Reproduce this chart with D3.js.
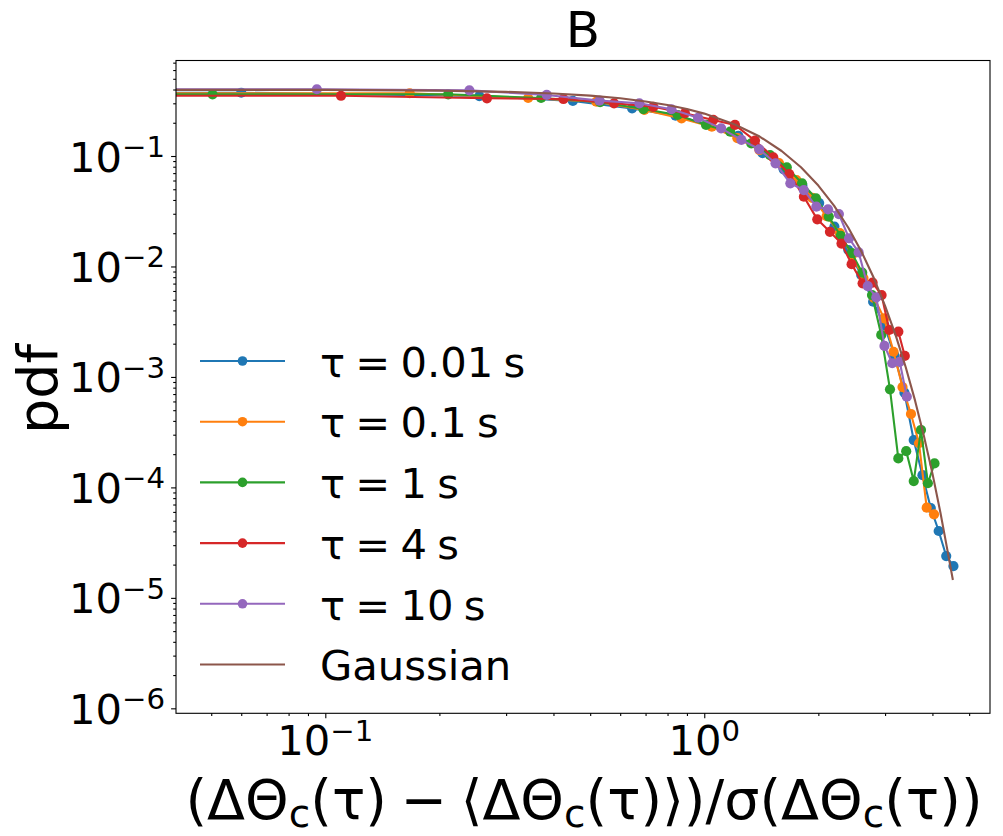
<!DOCTYPE html>
<html>
<head>
<meta charset="utf-8">
<script src="https://cdn.jsdelivr.net/npm/d3@7"></script>
<style>
    body { margin: 0; background: #ffffff; }
    text { font-family: 'DejaVu Sans', sans-serif; fill: #000000; }
</style>
</head>
<body>
<div id="chart"></div>
<script>
// Values (bin centres of the normalised increments, pdf per bin).
// The first entry of every series sits at a negative x: on the log axis it is clipped
// to a tiny value, which is why each line runs flat into the left spine.
const seriesLabels = ['τ = 0.01 s', 'τ = 0.1 s', 'τ = 1 s', 'τ = 4 s', 'τ = 10 s'];
const seriesColors = ['#1f77b4', '#ff7f0e', '#2ca02c', '#d62728', '#9467bd'];

const tau001X = [-0.135, 0.06, 0.255, 0.45, 0.645, 0.84, 1.035, 1.23, 1.425, 1.62, 1.815, 2.01, 2.205, 2.40, 2.595, 2.79, 2.985, 3.18, 3.375, 3.57, 3.765, 3.96, 4.155, 4.35, 4.545];
const tau001Y = [0.372, 0.374, 0.349, 0.315, 0.270, 0.232, 0.191, 0.152, 0.106, 0.0758, 0.0546, 0.0375, 0.0230, 0.0141, 0.00837, 0.00480, 0.00295, 0.00155, 0.000720, 0.000268, 0.000129, 6.51e-5, 4.03e-5, 2.39e-5, 1.94e-5];

const tau01X = [-0.009, 0.167, 0.343, 0.519, 0.695, 0.871, 1.047, 1.223, 1.399, 1.575, 1.751, 1.927, 2.103, 2.279, 2.455, 2.631, 2.807, 2.983, 3.159, 3.335, 3.511, 3.687, 3.863, 4.039];
const tau01Y = [0.370, 0.370, 0.335, 0.310, 0.261, 0.219, 0.184, 0.145, 0.113, 0.0864, 0.0606, 0.0417, 0.0286, 0.0200, 0.0127, 0.00786, 0.00518, 0.00339, 0.00169, 0.000810, 0.000462, 0.000251, 6.55e-5, 5.71e-5];

const tau1X = [-0.11, 0.0504, 0.211, 0.371, 0.531, 0.691, 0.851, 1.011, 1.171, 1.331, 1.491, 1.651, 1.811, 1.971, 2.131, 2.291, 2.451, 2.611, 2.771, 2.931, 3.091, 3.251, 3.411, 3.571, 3.731, 3.891, 4.051];
const tau1Y = [0.362, 0.362, 0.362, 0.335, 0.308, 0.266, 0.235, 0.191, 0.166, 0.130, 0.102, 0.0790, 0.0566, 0.0414, 0.0283, 0.0189, 0.0132, 0.00878, 0.00551, 0.00240, 0.000772, 0.000183, 0.000213, 0.000114, 0.000331, 0.000109, 0.000165];

const tau4X = [-0.047, 0.110, 0.267, 0.425, 0.578, 0.734, 0.889, 1.056, 1.205, 1.361, 1.521, 1.676, 1.832, 1.987, 2.146, 2.302, 2.448, 2.617, 2.781, 2.937, 3.077, 3.252, 3.382];
const tau4Y = [0.351, 0.351, 0.333, 0.328, 0.300, 0.279, 0.244, 0.212, 0.191, 0.138, 0.0973, 0.0687, 0.0428, 0.0267, 0.0206, 0.0161, 0.0105, 0.00704, 0.00713, 0.00551, 0.00266, 0.00257, 0.00155];

const tau10X = [-0.05, 0.095, 0.240, 0.384, 0.529, 0.674, 0.819, 0.963, 1.108, 1.253, 1.397, 1.542, 1.687, 1.831, 1.976, 2.121, 2.266, 2.410, 2.555, 2.700, 2.844, 2.989, 3.134, 3.279, 3.423];
const tau10Y = [0.400, 0.402, 0.393, 0.357, 0.317, 0.300, 0.265, 0.222, 0.178, 0.140, 0.115, 0.0859, 0.0566, 0.0492, 0.0348, 0.0329, 0.0298, 0.0180, 0.0134, 0.00665, 0.00526, 0.00191, 0.00133, 0.00137, 0.000662];

const gaussX = [0, 0.1, 0.2, 0.3, 0.4, 0.5, 0.6, 0.7, 0.8, 0.9, 1.0, 1.2, 1.4, 1.6, 1.8, 2.0, 2.2, 2.4, 2.6, 2.8, 3.0, 3.2, 3.4, 3.6, 3.8, 4.0, 4.2, 4.4, 4.53];
const gaussY = [0.399, 0.397, 0.391, 0.381, 0.368, 0.352, 0.333, 0.312, 0.290, 0.266, 0.242, 0.194, 0.150, 0.111, 0.079, 0.054, 0.0355, 0.0224, 0.0136, 0.0079, 0.0044, 0.00238, 0.00123, 0.00061, 0.00029, 0.000134, 5.9e-5, 2.5e-5, 1.45e-5];

const xTickExponents = [-1, 0];
const yTickExponents = [-6, -5, -4, -3, -2, -1];

/*
    LogLogPdf
    =========
    - initViz()   → svg, scales, spines, axes, labels
    - updateViz() → build the series objects from the arrays
    - renderViz() → lines, markers, legend
*/
class LogLogPdf {
    constructor(config) {
        this.config = {
            parentElement: config.parentElement,
            width: config.width,
            height: config.height,
            left: 176, right: 990, top: 60.5, bottom: 713.3,
            xDomain: [10 ** -1.394, 10 ** 0.754],
            yDomain: [10 ** -6.045, 10 ** -0.1354],
            tickFont: 41.7,
        };
        this.initViz();
    }

    initViz() {
        const c = this.config;

        this.svg = d3.select(c.parentElement)
            .append('svg')
            .attr('width', c.width)
            .attr('height', c.height);

        this.svg.append('rect')
            .attr('width', c.width)
            .attr('height', c.height)
            .attr('fill', '#ffffff');

        this.xScale = d3.scaleLog().domain(c.xDomain).range([c.left, c.right]);
        this.yScale = d3.scaleLog().domain(c.yDomain).range([c.bottom, c.top]);

        // clip to the axes box (the flat lead-in lines start far off to the left)
        this.svg.append('clipPath').attr('id', 'plot-clip')
            .append('rect')
            .attr('x', c.left).attr('y', c.top)
            .attr('width', c.right - c.left).attr('height', c.bottom - c.top);

        this.bounds = this.svg.append('g').attr('clip-path', 'url(#plot-clip)');

        // minor ticks: 2..9 in every decade
        const minors = (lo, hi) => {
            const out = [];
            for (let e = Math.floor(Math.log10(lo)); e <= Math.ceil(Math.log10(hi)); e++) {
                for (let m = 2; m <= 9; m++) {
                    const v = m * 10 ** e;
                    if (v >= lo && v <= hi) out.push(v);
                }
            }
            return out;
        };

        const styleAxis = g => {
            g.select('.domain').remove();
            g.selectAll('line').attr('stroke', '#000000').attr('stroke-width', 1.1);
        };

        this.svg.append('g')
            .attr('transform', `translate(0, ${c.bottom})`)
            .call(d3.axisBottom(this.xScale).tickValues(minors(...c.xDomain)).tickSize(2.8).tickFormat(''))
            .call(styleAxis);
        this.svg.append('g')
            .attr('transform', `translate(0, ${c.bottom})`)
            .call(d3.axisBottom(this.xScale).tickValues(xTickExponents.map(e => 10 ** e)).tickSize(4.9).tickFormat(''))
            .call(styleAxis);
        this.svg.append('g')
            .attr('transform', `translate(${c.left}, 0)`)
            .call(d3.axisLeft(this.yScale).tickValues(minors(...c.yDomain)).tickSize(2.8).tickFormat(''))
            .call(styleAxis);
        this.svg.append('g')
            .attr('transform', `translate(${c.left}, 0)`)
            .call(d3.axisLeft(this.yScale).tickValues(yTickExponents.map(e => 10 ** e)).tickSize(4.9).tickFormat(''))
            .call(styleAxis);

        // spines
        this.svg.append('rect')
            .attr('x', c.left).attr('y', c.top)
            .attr('width', c.right - c.left).attr('height', c.bottom - c.top)
            .attr('fill', 'none')
            .attr('stroke', '#000000')
            .attr('stroke-width', 1.1);

        // tick labels as 10 with a superscript exponent
        const powText = (sel, e) => {
            sel.append('tspan').text('10');
            sel.append('tspan').attr('dy', -14.5).attr('font-size', c.tickFont * 0.7)
                .text(e < 0 ? '\u2212' + (-e) : String(e));
        };

        xTickExponents.forEach(e => {
            this.svg.append('text')
                .attr('x', this.xScale(10 ** e))
                .attr('y', 755)
                .attr('text-anchor', 'middle')
                .attr('font-size', c.tickFont)
                .call(powText, e);
        });

        yTickExponents.forEach(e => {
            this.svg.append('text')
                .attr('x', 165)
                .attr('y', this.yScale(10 ** e) + 15.5)
                .attr('text-anchor', 'end')
                .attr('font-size', c.tickFont)
                .call(powText, e);
        });

        // title and axis titles
        this.svg.append('text')
            .attr('x', (c.left + c.right) / 2)
            .attr('y', 46.5)
            .attr('text-anchor', 'middle')
            .attr('font-size', 50)
            .text('B');

        this.svg.append('text')
            .attr('transform', `translate(57, ${(c.top + c.bottom) / 2 + 2}) rotate(-90)`)
            .attr('text-anchor', 'middle')
            .attr('font-size', 55.5)
            .text('pdf');

        const xLabel = this.svg.append('text')
            .attr('x', (c.left + c.right) / 2 + 1)
            .attr('y', 819)
            .attr('text-anchor', 'middle')
            .attr('font-size', 55.5)
            .style('word-spacing', '-4px');
        const parts = ['(ΔΘ', 'c', '(τ) \u2212 \u27E8ΔΘ', 'c', '(τ)\u27E9)/σ(ΔΘ', 'c', '(τ))'];
        parts.forEach((p, i) => {
            const t = xLabel.append('tspan').text(p);
            if (i % 2 === 1) t.attr('font-size', 39).attr('dy', 8);
            else if (i > 0) t.attr('dy', -8);
        });
    }

    updateViz() {
        const xs = [tau001X, tau01X, tau1X, tau4X, tau10X];
        const ys = [tau001Y, tau01Y, tau1Y, tau4Y, tau10Y];

        this.series = seriesLabels.map((label, i) => ({
            label,
            color: seriesColors[i],
            markers: true,
            points: xs[i].map((x, j) => ({ x, y: ys[i][j] })),
        }));
        this.series.push({
            label: 'Gaussian',
            color: '#8c564b',
            markers: false,
            points: gaussX.map((x, j) => ({ x, y: gaussY[j] })),
        });

        this.renderViz();
    }

    renderViz() {
        // nonpositive x is clipped to a tiny value, like a log axis does
        const px = d => this.xScale(d.x > 0 ? d.x : 1e-300);
        const py = d => this.yScale(d.y);

        const line = d3.line().x(px).y(py);

        const groups = this.bounds.selectAll('g.series')
            .data(this.series)
            .join('g')
            .attr('class', 'series');

        groups.append('path')
            .attr('d', d => line(d.points))
            .attr('fill', 'none')
            .attr('stroke', d => d.color)
            .attr('stroke-width', 2.1)
            .attr('stroke-linejoin', 'round');

        groups.filter(d => d.markers)
            .selectAll('circle')
            .data(d => d.points.filter(p => p.x > 0).map(p => ({ ...p, color: d.color })))
            .join('circle')
            .attr('cx', px)
            .attr('cy', py)
            .attr('r', 5.1)
            .attr('fill', d => d.color);

        // legend, no frame
        const legend = this.svg.append('g');
        this.series.forEach((s, i) => {
            const rowY = 361 + i * 60.7;
            legend.append('line')
                .attr('x1', 200).attr('x2', 285)
                .attr('y1', rowY).attr('y2', rowY)
                .attr('stroke', s.color)
                .attr('stroke-width', 2.1);
            if (s.markers) {
                legend.append('circle')
                    .attr('cx', 242.5).attr('cy', rowY)
                    .attr('r', 4.8)
                    .attr('fill', s.color);
            }
            legend.append('text')
                .attr('x', 320)
                .attr('y', rowY + 15.7)
                .attr('font-size', this.config.tickFont)
                .style('word-spacing', '-3px')
                .text(s.label);
        });
    }
}

const chart = new LogLogPdf({ parentElement: '#chart', width: 1003, height: 836 });
chart.updateViz();
</script>
</body>
</html>
